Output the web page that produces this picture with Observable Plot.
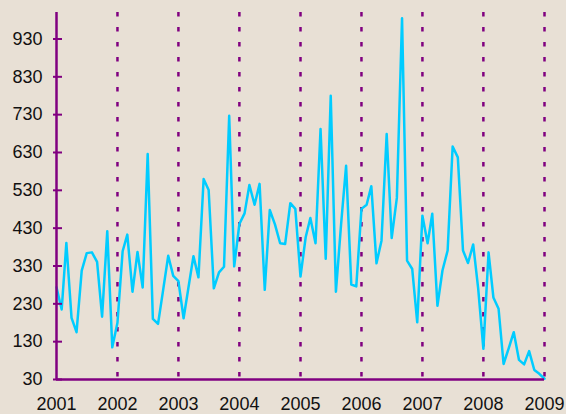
<!DOCTYPE html>
<html>
<head>
<meta charset="utf-8">
<script src="https://cdn.jsdelivr.net/npm/d3@7"></script>
<script src="https://cdn.jsdelivr.net/npm/@observablehq/plot@0.6"></script>
<style>
  html, body { margin: 0; padding: 0; background: #E8E0D5; }
</style>
</head>
<body>
<div id="chart"></div>
<script>
// Monthly values, January of each year first
const v2001 = [274, 215, 391, 193, 155, 318, 364, 366, 341, 196, 422, 115];
const v2002 = [180, 369, 413, 262, 367, 273, 626, 190, 177, 265, 357, 304];
const v2003 = [290, 192, 270, 356, 300, 560, 531, 271, 313, 328, 727, 329];
const v2004 = [441, 469, 544, 492, 547, 267, 478, 440, 390, 388, 496, 481];
const v2005 = [302, 406, 457, 390, 692, 349, 780, 262, 440, 595, 281, 276];
const v2006 = [481, 492, 541, 337, 397, 679, 404, 510, 985, 344, 322, 181];
const v2007 = [463, 390, 468, 225, 318, 371, 646, 617, 371, 338, 387, 270];
const v2008 = [111, 366, 247, 217, 71, 113, 155, 82, 70, 105, 55, 45];
const v2009 = [32];

const years = [2001, 2002, 2003, 2004, 2005, 2006, 2007, 2008, 2009];
const yTicks = [30, 130, 230, 330, 430, 530, 630, 730, 830, 930];

const values = [].concat(v2001, v2002, v2003, v2004, v2005, v2006, v2007, v2008, v2009);
const data = values.map((v, i) => ({date: new Date(Date.UTC(years[0], i, 1)), value: v}));
const yearDates = years.map(y => new Date(Date.UTC(y, 0, 1)));

const purple = "#800080";

const chart = Plot.plot({
  width: 566,
  height: 414,
  marginLeft: 56,
  marginRight: 22,
  marginTop: 12,
  marginBottom: 35,
  style: {
    background: "#E8E0D5",
    fontFamily: "'Liberation Sans', Arial, sans-serif",
    fontSize: "18px",
    color: "#111"
  },
  x: {type: "utc", domain: [yearDates[0], yearDates[yearDates.length - 1]]},
  y: {domain: [30, 1000]},
  marks: [
    Plot.ruleX(yearDates.slice(1), {y1: 1000, y2: 30, stroke: purple, strokeWidth: 2.5, strokeDasharray: "4.5,10.5"}),
    Plot.line(data, {x: "date", y: "value", stroke: "#00CCFF", strokeWidth: 2.5}),
    Plot.ruleY([30], {stroke: purple, strokeWidth: 2.5}),
    Plot.ruleX([yearDates[0]], {stroke: purple, strokeWidth: 2.5}),
    Plot.axisY(yTicks, {tickSize: -9, dx: -3, tickFormat: () => "", stroke: purple, strokeWidth: 2, label: null}),
    Plot.axisY(yTicks, {tickSize: 0, tickPadding: 14, label: null, fill: "#111"}),
    Plot.axisX(yearDates, {tickSize: 0, tickPadding: 18, tickFormat: d => String(d.getUTCFullYear()), label: null, fill: "#111"})
  ]
});
document.getElementById("chart").appendChild(chart);
</script>
</body>
</html>
